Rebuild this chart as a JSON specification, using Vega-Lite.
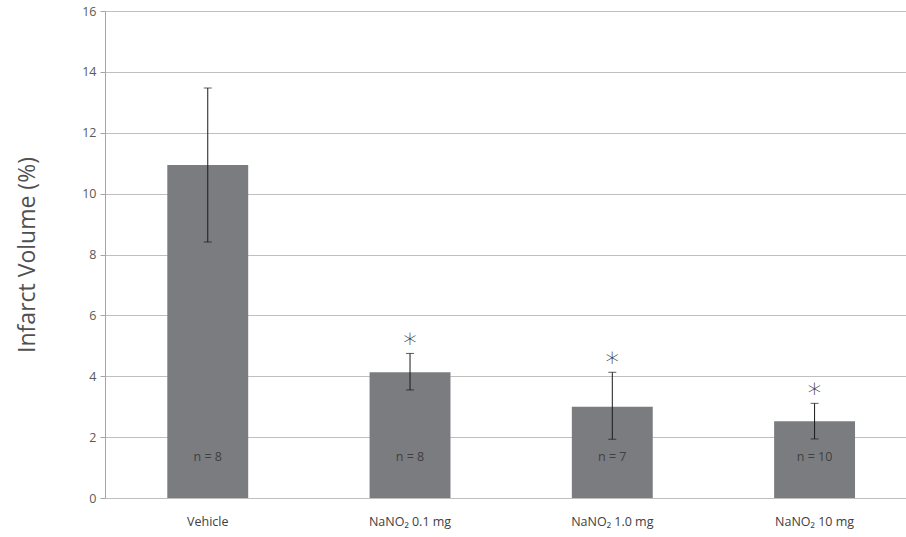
{
  "$schema": "https://vega.github.io/schema/vega-lite/v6.json",
  "width": 801,
  "height": 487,
  "autosize": {"type": "none"},
  "padding": {"left": 105, "top": 11, "right": 0, "bottom": 39},
  "background": "white",
  "config": {
    "view": {"stroke": null},
    "font": "Open Sans"
  },
  "data": {
    "values": [
      {"group": "Vehicle", "mean": 10.94, "lo": 8.41, "hi": 13.47, "n": "n = 8", "sig": ""},
      {"group": "NaNO₂ 0.1 mg", "mean": 4.13, "lo": 3.55, "hi": 4.75, "n": "n = 8", "sig": "∗"},
      {"group": "NaNO₂ 1.0 mg", "mean": 3.0, "lo": 1.93, "hi": 4.13, "n": "n = 7", "sig": "∗"},
      {"group": "NaNO₂ 10 mg", "mean": 2.52, "lo": 1.94, "hi": 3.11, "n": "n = 10", "sig": "∗"}
    ]
  },
  "encoding": {
    "x": {
      "field": "group",
      "type": "nominal",
      "sort": null,
      "scale": {"paddingInner": 0.6, "paddingOuter": 0.28, "align": 0.55},
      "axis": {
        "title": null,
        "labelAngle": 0,
        "labelFontSize": 12.5,
        "labelColor": "#404040",
        "labelPadding": 17,
        "ticks": false,
        "domainColor": "#bfbfbf",
        "grid": false
      }
    }
  },
  "layer": [
    {
      "mark": {"type": "bar", "color": "#7b7c80"},
      "encoding": {
        "y": {
          "field": "mean",
          "type": "quantitative",
          "scale": {"domain": [0, 16], "nice": false},
          "axis": {
            "values": [0, 2, 4, 6, 8, 10, 12, 14, 16],
            "title": "Infarct Volume (%)",
            "titleFontSize": 23,
            "titleFontWeight": "normal",
            "titleColor": "#505050",
            "titlePadding": 42,
            "labelFontSize": 12.5,
            "labelColor": "#595959",
            "labelPadding": 4,
            "tickSize": 5,
            "tickColor": "#a6a6a6",
            "domainColor": "#a6a6a6",
            "gridColor": "#bfbfbf",
            "gridWidth": 1
          }
        }
      }
    },
    {
      "mark": {"type": "rule", "color": "#1a1a1a", "strokeWidth": 1},
      "encoding": {
        "y": {"field": "lo", "type": "quantitative"},
        "y2": {"field": "hi"}
      }
    },
    {
      "mark": {"type": "tick", "color": "#1a1a1a", "thickness": 1, "size": 8},
      "encoding": {"y": {"field": "lo", "type": "quantitative"}}
    },
    {
      "mark": {"type": "tick", "color": "#1a1a1a", "thickness": 1, "size": 8},
      "encoding": {"y": {"field": "hi", "type": "quantitative"}}
    },
    {
      "mark": {"type": "text", "fontSize": 27, "color": "#333333", "baseline": "middle", "dy": -14, "font": "DejaVu Sans", "fontWeight": 200},
      "encoding": {
        "y": {"field": "hi", "type": "quantitative"},
        "text": {"field": "sig"}
      }
    },
    {
      "mark": {"type": "text", "fontSize": 12.5, "color": "#404040", "baseline": "middle"},
      "encoding": {
        "y": {"datum": 1.35},
        "text": {"field": "n"}
      }
    }
  ]
}
